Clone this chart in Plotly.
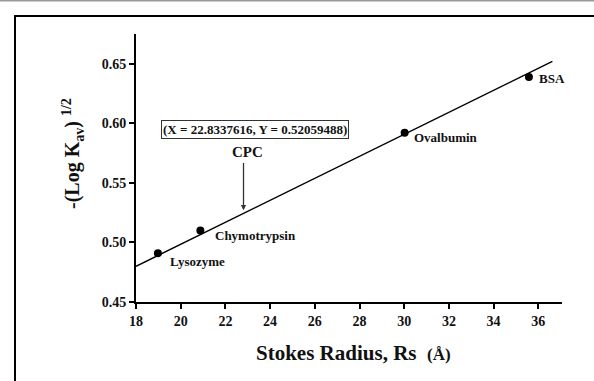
import plotly.graph_objects as go

# Calibration proteins: Stokes radius (Å) vs -(log Kav)^1/2
proteins = ["Lysozyme", "Chymotrypsin", "Ovalbumin", "BSA"]
stokes_radius = [18.98, 20.88, 30.02, 35.58]
neg_log_kav_sqrt = [0.491, 0.510, 0.592, 0.639]

# Fitted calibration line end points
fit_x = [18.0, 36.63]
fit_y = [0.480, 0.652]

# Label anchor positions for each protein
label_x = [19.45, 21.45, 30.35, 35.95]
label_y = [0.4836, 0.5059, 0.5885, 0.638]

# Unknown sample (CPC)
cpc_x = 22.81
cpc_arrow_tail = 0.568
cpc_arrow_head = 0.527
cpc_readout = "(X = 22.8337616, Y = 0.52059488)"

x_ticks = list(range(18, 37, 2))
y_ticks = [0.45, 0.50, 0.55, 0.60, 0.65]

FONT = "Times New Roman, Liberation Serif, Times, serif"

fig = go.Figure()

fig.add_trace(go.Scatter(
    x=fit_x, y=fit_y, mode="lines",
    line=dict(color="black", width=1.5),
    hoverinfo="skip", showlegend=False,
))
fig.add_trace(go.Scatter(
    x=stokes_radius, y=neg_log_kav_sqrt, mode="markers",
    marker=dict(color="black", size=8),
    showlegend=False,
))

annotations = []
for name, lx, ly in zip(proteins, label_x, label_y):
    annotations.append(dict(
        x=lx, y=ly, xref="x", yref="y", text="<b>" + name + "</b>",
        showarrow=False, xanchor="left", yanchor="middle",
        font=dict(family=FONT, size=13, color="#111"),
    ))

# CPC arrow and label
annotations.append(dict(
    x=cpc_x, y=cpc_arrow_head, ax=cpc_x, ay=cpc_arrow_tail,
    xref="x", yref="y", axref="x", ayref="y", text="",
    showarrow=True, arrowhead=2, arrowsize=0.8, arrowwidth=1.3,
    arrowcolor="#333",
))
annotations.append(dict(
    x=23.0, y=0.5759, xref="x", yref="y", text="<b>CPC</b>", showarrow=False,
    font=dict(family=FONT, size=15, color="#111"),
))
annotations.append(dict(
    x=23.32, y=0.5946, xref="x", yref="y", text="<b>" + cpc_readout + "</b>",
    showarrow=False,
    font=dict(family=FONT, size=13, color="#111"),
    bordercolor="#333", borderwidth=1, borderpad=1, bgcolor="white",
))

# Axis titles
annotations.append(dict(
    x=(353 - 136) / 426, y=(302 - 352.5) / 268, xref="paper", yref="paper",
    text="<b>Stokes Radius, Rs  <span style='font-size:17px'>(Å)</span></b>",
    showarrow=False, xanchor="center", yanchor="middle",
    font=dict(family=FONT, size=21, color="#111"),
))
annotations.append(dict(
    x=(73 - 136) / 426, y=(302 - 154) / 268, xref="paper", yref="paper",
    text="<b>-(Log K<sub>av</sub>) <sup>1/2</sup></b>", textangle=-90,
    showarrow=False, xanchor="center", yanchor="middle",
    font=dict(family=FONT, size=20, color="#111"),
))

# Outer frame and top rule
shapes = [
    dict(type="rect", xref="paper", yref="paper",
         x0=(15 - 136) / 426, x1=1.3, y0=-0.6, y1=(302 - 16) / 268,
         line=dict(color="black", width=2), layer="below"),
    dict(type="line", xref="paper", yref="paper",
         x0=-0.5, x1=1.3, y0=(302 - 0.5) / 268, y1=(302 - 0.5) / 268,
         line=dict(color="#9a9a9a", width=2)),
]

axis_common = dict(
    showline=True, linecolor="black", linewidth=2,
    ticks="outside", ticklen=5, tickwidth=1.5, tickcolor="black",
    showgrid=False, zeroline=False,
    tickfont=dict(family=FONT, size=14, color="#111", weight="bold"),
)

fig.update_layout(
    width=594, height=381,
    margin=dict(l=136, r=32, t=34, b=79),
    paper_bgcolor="white", plot_bgcolor="white",
    xaxis=dict(range=[18, 37.06], tickvals=x_ticks, **axis_common),
    yaxis=dict(range=[0.45, 0.675], tickvals=y_ticks, tickformat=".2f",
               **axis_common),
    annotations=annotations, shapes=shapes,
)

fig.write_html("out.html")
